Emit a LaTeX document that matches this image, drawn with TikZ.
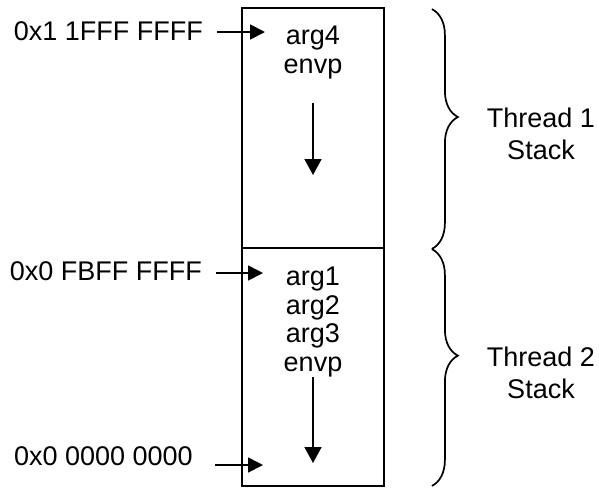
\documentclass[tikz,border=0pt]{standalone}
\usepackage{fontspec}
\setmainfont{Liberation Sans}
\usetikzlibrary{arrows.meta,decorations.pathreplacing}
\begin{document}
\begin{tikzpicture}[x=1pt, y=-1pt,
    frame/.style={draw, line width=1.8pt, minimum width=142pt, inner sep=0pt},
    entries/.style={align=center, inner sep=0pt, font=\fontsize{27}{28.5}\selectfont},
    addr/.style={inner xsep=14pt, inner ysep=0pt, font=\fontsize{27}{30}\selectfont},
    thread/.style={align=center, inner sep=0pt, font=\fontsize{27}{32}\selectfont},
    ptr/.style={-{Triangle[length=15pt, width=15pt]}, line width=1.7pt},
    growth/.style={-{Triangle[length=16pt, width=17pt]}, line width=1.8pt},
    stackbrace/.style={decorate, decoration={brace, amplitude=26pt, aspect=0.45}, line width=1.7pt}]

    \useasboundingbox (0,0) rectangle (599,488);

    % Stack frames
    \node[frame, minimum height=240pt] (t1) at (313,128) {};
    \node[frame, minimum height=238pt] (t2) at (313,367) {};

    % Frame contents
    \node[entries, anchor=north] (args1) at (313,26) {arg4\\envp};
    \node[entries, anchor=north] (args2) at (313,267) {arg1\\arg2\\arg3\\envp};

    % Growth direction
    \coordinate (low1) at (313,175);
    \coordinate (low2) at (313,463);
    \draw[growth] ([yshift=-24pt]args1.south) -- (low1);
    \draw[growth] (args2.south) -- (low2);

    % Addresses
    \node[addr, anchor=base east] (a1) at (217,40.5) {0x1 1FFF FFFF};
    \node[addr, anchor=base east] (a2) at (216,280) {0x0 FBFF FFFF};
    \node[addr, inner xsep=22pt, anchor=base east] (a3) at (215,465) {0x0 0000 0000};
    \coordinate (p1) at (265,32);
    \coordinate (p2) at (263,273);
    \coordinate (p3) at (263,465);
    \draw[ptr] (a1.east |- p1) -- (p1);
    \draw[ptr] (a2.east |- p2) -- (p2);
    \draw[ptr] (a3.east |- p3) -- (p3);

    % Braces
    \draw[stackbrace] ([xshift=47pt, yshift=-2pt]t1.north east) -- ([xshift=47pt]t1.south east);
    \draw[stackbrace] ([xshift=47pt, yshift=-2pt]t2.north east) -- ([xshift=47pt, yshift=1pt]t2.south east);

    % Thread labels
    \node[thread] (th1) at (541,134) {Thread 1\\Stack};
    \node[thread] (th2) at (541,373) {Thread 2\\Stack};
\end{tikzpicture}
\end{document}
